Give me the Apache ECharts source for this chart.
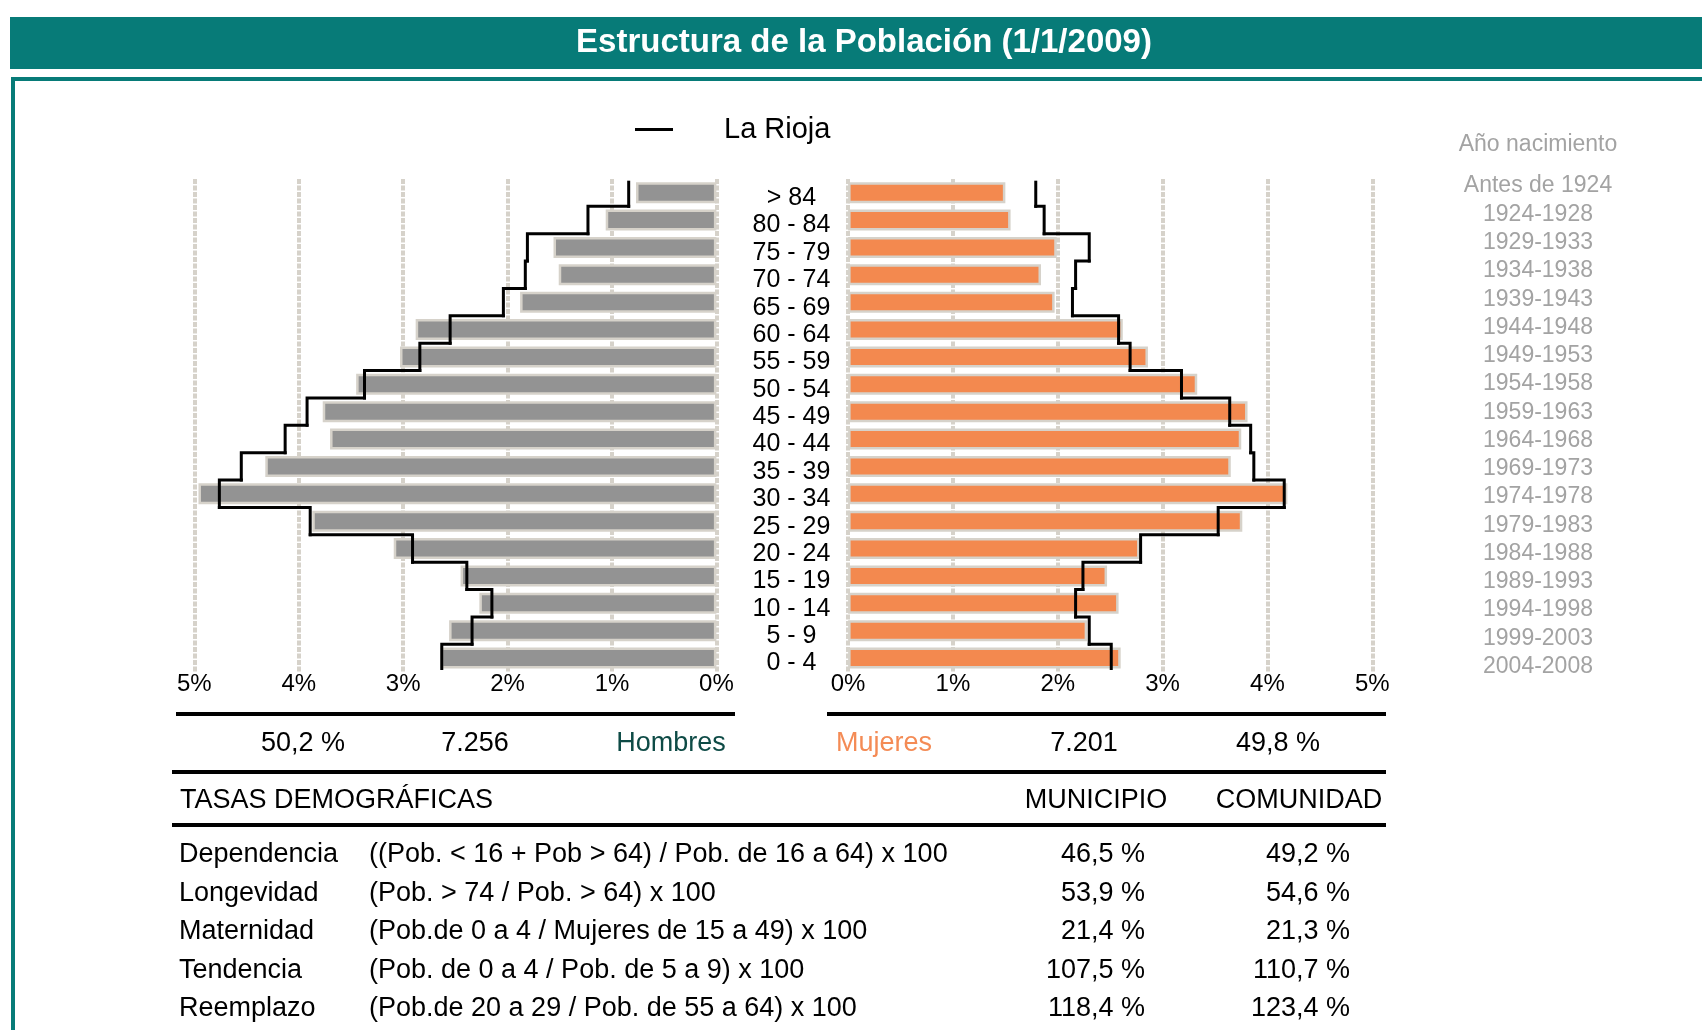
<!DOCTYPE html>
<html>
<head>
<meta charset="utf-8">
<title>Estructura de la Población</title>
<script src="https://cdn.jsdelivr.net/npm/echarts@6/dist/echarts.min.js"></script>
<style>
    html, body {margin: 0; padding: 0; background: #fff;}
    #main {width: 1702px; height: 1030px;}
</style>
</head>
<body>
<div id="main"></div>
<script>
    // grupos de edad, de abajo (0 - 4) hacia arriba (> 84)
    var ageGroups = ['0 - 4', '5 - 9', '10 - 14', '15 - 19', '20 - 24', '25 - 29', '30 - 34', '35 - 39', '40 - 44',
        '45 - 49', '50 - 54', '55 - 59', '60 - 64', '65 - 69', '70 - 74', '75 - 79', '80 - 84', '> 84'];
    var birthYears = ['2004-2008', '1999-2003', '1994-1998', '1989-1993', '1984-1988', '1979-1983', '1974-1978',
        '1969-1973', '1964-1968', '1959-1963', '1954-1958', '1949-1953', '1944-1948', '1939-1943', '1934-1938',
        '1929-1933', '1924-1928', 'Antes de 1924'];

    // % sobre el total (municipio)
    var menPct = [2.64, 2.56, 2.27, 2.45, 3.09, 3.87, 4.96, 4.32, 3.70, 3.77, 3.45, 3.03, 2.88, 1.88, 1.51, 1.56, 1.06, 0.77];
    var womenPct = [2.60, 2.28, 2.58, 2.47, 2.78, 3.76, 4.19, 3.65, 3.75, 3.81, 3.33, 2.86, 2.62, 1.97, 1.84, 1.99, 1.55, 1.50];
    // % La Rioja
    var menRioja = [2.63, 2.34, 2.15, 2.39, 2.91, 3.89, 4.76, 4.55, 4.13, 3.92, 3.37, 2.84, 2.55, 2.04, 1.83, 1.81, 1.23, 0.84];
    var womenRioja = [2.51, 2.30, 2.17, 2.24, 2.79, 3.53, 4.16, 3.87, 3.84, 3.64, 3.18, 2.69, 2.58, 2.14, 2.17, 2.30, 1.87, 1.79];

    var pctTicks = [0, 1, 2, 3, 4, 5];

    var sexNames = ['Hombres', 'Mujeres'];
    var sexTotals = ['7.256', '7.201'];
    var sexShares = ['50,2 %', '49,8 %'];

    var rateNames = ['Dependencia', 'Longevidad', 'Maternidad', 'Tendencia', 'Reemplazo'];
    var rateFormulas = ['((Pob. < 16 + Pob > 64) / Pob. de 16 a 64) x 100', '(Pob. > 74 / Pob. > 64) x 100',
        '(Pob.de 0 a 4 / Mujeres de 15 a 49) x 100', '(Pob. de 0 a 4 / Pob. de 5 a 9) x 100',
        '(Pob.de 20 a 29 / Pob. de 55 a 64) x 100'];
    var rateMunicipio = ['46,5 %', '53,9 %', '21,4 %', '107,5 %', '118,4 %'];
    var rateComunidad = ['49,2 %', '54,6 %', '21,3 %', '110,7 %', '123,4 %'];

    var FONT = '"Liberation Sans", Arial, sans-serif';
    var TEAL = '#077b78';
    var BEIGE = '#d6d2ca';
    var BAR_W = 21;

    function txt(text, x, y, size, color, align, weight) {
        return {
            type: 'text', silent: true,
            style: {
                text: text, x: x, y: y, fill: color || '#000', align: align || 'left', verticalAlign: 'middle',
                fontSize: size, fontWeight: weight || 'normal', fontFamily: FONT
            }
        };
    }

    function hline(x1, x2, y) {
        return {type: 'line', silent: true, shape: {x1: x1, y1: y, x2: x2, y2: y}, style: {stroke: '#000', lineWidth: 4}};
    }

    // linea escalonada de La Rioja
    function stepRender(arr) {
        return function (params, api) {
            var i = params.dataIndex;
            var p = api.coord([api.value(0), i]);
            var half = api.size([0, 1])[1] / 2;
            var yTop = p[1] - half, yBot = p[1] + half;
            if (i === 0) yBot = p[1] + BAR_W / 2;
            if (i === arr.length - 1) yTop = p[1] - BAR_W / 2;
            var pts = [[p[0], yBot], [p[0], yTop]];
            if (i < arr.length - 1) {
                pts.push([api.coord([arr[i + 1], i + 1])[0], yTop]);
            }
            return {
                type: 'polyline',
                shape: {points: pts},
                style: {stroke: '#000', lineWidth: 3, fill: 'none', lineJoin: 'miter', lineCap: 'square'}
            };
        };
    }

    function toPairs(arr) {
        return arr.map(function (v, i) {
            return [v, i];
        });
    }

    var graphics = [
        {type: 'rect', silent: true, shape: {x: 10, y: 17, width: 1692, height: 52}, style: {fill: TEAL}},
        txt('Estructura de la Población (1/1/2009)', 864, 43, 33, '#fff', 'center', 'bold'),
        {type: 'rect', silent: true, shape: {x: 11, y: 77, width: 1691, height: 4}, style: {fill: TEAL}},
        {type: 'rect', silent: true, shape: {x: 11, y: 77, width: 4, height: 953}, style: {fill: TEAL}},
        hline(176, 735, 714),
        hline(827, 1386, 714),
        hline(172, 1386, 772),
        hline(172, 1386, 825),
        txt(sexShares[0], 303, 744, 27, '#000', 'center'),
        txt(sexTotals[0], 475, 744, 27, '#000', 'center'),
        txt(sexNames[0], 671, 744, 27, '#0e4b46', 'center'),
        txt(sexNames[1], 884, 744, 27, '#f48b55', 'center'),
        txt(sexTotals[1], 1084, 744, 27, '#000', 'center'),
        txt(sexShares[1], 1278, 744, 27, '#000', 'center'),
        txt('TASAS DEMOGRÁFICAS', 180, 801, 27),
        txt('MUNICIPIO', 1096, 801, 27, '#000', 'center'),
        txt('COMUNIDAD', 1299, 801, 27, '#000', 'center')
    ];
    rateNames.forEach(function (name, i) {
        var y = 855 + i * 38.5;
        graphics.push(txt(name, 179, y, 27));
        graphics.push(txt(rateFormulas[i], 369, y, 27));
        graphics.push(txt(rateMunicipio[i], 1145, y, 27, '#000', 'right'));
        graphics.push(txt(rateComunidad[i], 1350, y, 27, '#000', 'right'));
    });

    var valueAxis = function (gridIndex, inverse) {
        return {
            type: 'value', gridIndex: gridIndex, min: pctTicks[0], max: pctTicks[pctTicks.length - 1], interval: 1,
            inverse: inverse,
            axisLine: {show: false}, axisTick: {show: false},
            axisLabel: {formatter: '{value}%', fontSize: 24, color: '#000', fontFamily: FONT, margin: 1},
            splitLine: {show: true, lineStyle: {color: BEIGE, width: 4, type: [5, 1.5]}}
        };
    };

    var chart = echarts.init(document.getElementById('main'), null, {renderer: 'canvas'});
    chart.setOption({
        animation: false,
        backgroundColor: '#fff',
        textStyle: {fontFamily: FONT},
        graphic: graphics,
        legend: {
            data: ['La Rioja'],
            left: 635, top: 115, padding: 0,
            icon: 'rect', itemWidth: 38, itemHeight: 3,
            selectedMode: false,
            itemStyle: {color: '#000', borderWidth: 0},
            textStyle: {fontSize: 29, color: '#000', fontFamily: FONT, padding: [0, 0, 0, 46]}
        },
        grid: [
            {left: 194.3, top: 179, width: 522.1, height: 492.7, outerBoundsMode: 'none'},
            {left: 848.1, top: 179, width: 524.2, height: 492.7, outerBoundsMode: 'none'},
            {left: 1538, top: 172, width: 20, height: 508.7, outerBoundsMode: 'none'}
        ],
        xAxis: [
            valueAxis(0, true),
            valueAxis(1, false),
            {type: 'value', gridIndex: 2, show: false}
        ],
        yAxis: [
            {
                type: 'category', gridIndex: 0, data: ageGroups, position: 'right',
                axisLine: {show: false}, axisTick: {show: false},
                axisLabel: {
                    interval: 0, margin: 75, align: 'center', verticalAlign: 'top', lineHeight: 11,
                    fontSize: 25, color: '#000', fontFamily: FONT
                }
            },
            {
                type: 'category', gridIndex: 1, data: ageGroups,
                axisLine: {show: false}, axisTick: {show: false}, axisLabel: {show: false}
            },
            {
                type: 'category', gridIndex: 2, data: birthYears, position: 'left',
                name: 'Año nacimiento', nameLocation: 'end', nameGap: 16,
                nameTextStyle: {fontSize: 23, color: '#a3a3a3', fontFamily: FONT, align: 'center'},
                axisLine: {show: false}, axisTick: {show: false},
                axisLabel: {interval: 0, margin: 0, align: 'center', fontSize: 23, color: '#a3a3a3', fontFamily: FONT}
            }
        ],
        series: [
            {
                name: 'Hombres', type: 'bar', xAxisIndex: 0, yAxisIndex: 0, data: menPct, barWidth: BAR_W,
                itemStyle: {color: '#939393', borderColor: BEIGE, borderWidth: 2.5}
            },
            {
                name: 'Mujeres', type: 'bar', xAxisIndex: 1, yAxisIndex: 1, data: womenPct, barWidth: BAR_W,
                itemStyle: {color: '#f3894f', borderColor: BEIGE, borderWidth: 2.5}
            },
            {
                name: 'La Rioja', type: 'custom', xAxisIndex: 0, yAxisIndex: 0, z: 3,
                data: toPairs(menRioja), encode: {x: 0, y: 1},
                itemStyle: {color: '#000'},
                renderItem: stepRender(menRioja)
            },
            {
                name: 'La Rioja', type: 'custom', xAxisIndex: 1, yAxisIndex: 1, z: 3,
                data: toPairs(womenRioja), encode: {x: 0, y: 1},
                itemStyle: {color: '#000'},
                renderItem: stepRender(womenRioja)
            }
        ]
    });
</script>
</body>
</html>
